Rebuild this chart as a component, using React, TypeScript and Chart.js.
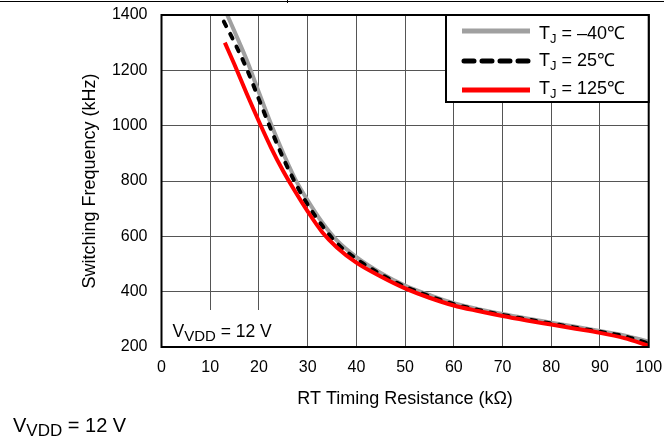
import React, { useEffect, useRef } from "react";
import { Chart, registerables } from "chart.js";

Chart.register(...registerables);

const FONT = "'Liberation Sans', Arial, sans-serif";

// x: RT timing resistance (kΩ), y: switching frequency (kHz)
const rtMinus40 = [13.5, 15, 17.5, 20, 22.5, 25, 27.5, 30, 33, 36, 40, 45, 50, 55, 60, 65, 70, 75, 80, 85, 90, 95, 100];
const fMinus40 = [1400, 1340, 1237, 1120, 1005, 900, 805, 730, 650, 585, 525, 468, 422, 388, 358, 337, 319, 303, 288, 273, 258, 242, 219];

const rt25 = [12.8, 15, 17.5, 20, 22.5, 25, 27.5, 30, 33, 36, 40, 45, 50, 55, 60, 65, 70, 75, 80, 85, 90, 95, 100];
const f25 = [1376, 1300, 1205, 1095, 985, 882, 792, 715, 638, 575, 518, 463, 418, 384, 355, 334, 316, 300, 285, 270, 255, 239, 213];

const rt125 = [13, 15, 17.5, 20, 22.5, 25, 27.5, 30, 33, 36, 40, 45, 50, 55, 60, 65, 70, 75, 80, 85, 90, 95, 100];
const f125 = [1300, 1220, 1115, 1015, 920, 835, 760, 690, 615, 560, 505, 455, 412, 378, 350, 330, 312, 296, 281, 266, 251, 232, 205];

const seriesLabels = ["–40℃", "25℃", "125℃"];
const xTitle = "RT Timing Resistance (kΩ)";
const yTitle = "Switching Frequency (kHz)";
const X_MIN = 0, X_MAX = 100, X_STEP = 10;
const Y_MIN = 200, Y_MAX = 1400, Y_STEP = 200;

const COLORS = ["#a0a0a0", "#000000", "#ff0000"];

function pts(xs: number[], ys: number[]) {
  return xs.map((x, i) => ({ x, y: ys[i] }));
}

function subText(ctx: CanvasRenderingContext2D, x: number, y: number, parts: [string, boolean][], size: number, subSize: number, subDy: number) {
  let cx = x;
  for (const [t, sub] of parts) {
    ctx.font = `${sub ? subSize : size}px ${FONT}`;
    ctx.fillText(t, cx, sub ? y + subDy : y);
    cx += ctx.measureText(t).width;
  }
}

const decor = {
  id: "decor",
  beforeDatasetsDraw(chart: any) {
    const { ctx, chartArea: a } = chart;
    ctx.save();
    ctx.fillStyle = "#fff";
    ctx.fillRect(a.left + 1, a.bottom - 37, 138, 37);
    ctx.fillStyle = "#000";
    ctx.textBaseline = "alphabetic";
    ctx.textAlign = "left";
    subText(ctx, a.left + 11, a.bottom - 10, [["V", false], ["VDD", true], [" = 12 V", false]], 17.5, 15, 4);
    ctx.restore();
  },
  afterDatasetsDraw(chart: any) {
    const { ctx, chartArea: a } = chart;
    ctx.save();
    // frame
    ctx.strokeStyle = "#000";
    ctx.lineWidth = 2;
    ctx.strokeRect(a.left, a.top, a.right - a.left, a.bottom - a.top);

    // legend box
    const lx = 446, ly = a.top, lw = a.right - 446, lh = 87;
    ctx.fillStyle = "#fff";
    ctx.fillRect(lx, ly, lw, lh);
    ctx.strokeRect(lx, ly, lw, lh);
    const rowsY = [31, 61, 90];
    const textY = [39, 66, 94];
    for (let i = 0; i < 3; i++) {
      ctx.beginPath();
      ctx.strokeStyle = COLORS[i];
      ctx.lineWidth = 5;
      if (i === 1) {
        ctx.setLineDash([10, 8]);
        ctx.lineCap = "round";
      } else {
        ctx.setLineDash([]);
        ctx.lineCap = "butt";
      }
      ctx.moveTo(i === 1 ? 464 : 462, rowsY[i]);
      ctx.lineTo(i === 1 ? 528 : 530, rowsY[i]);
      ctx.stroke();
      ctx.setLineDash([]);
      ctx.fillStyle = "#000";
      ctx.textAlign = "left";
      ctx.textBaseline = "alphabetic";
      subText(ctx, 539, textY[i], [["T", false], ["J", true], [" = " + seriesLabels[i], false]], 18, 13, 4);
    }

    // axis titles
    ctx.fillStyle = "#000";
    ctx.font = `18px ${FONT}`;
    ctx.textAlign = "center";
    ctx.textBaseline = "alphabetic";
    ctx.fillText(xTitle, (a.left + a.right) / 2, 404);
    ctx.translate(95, (a.top + a.bottom) / 2);
    ctx.rotate(-Math.PI / 2);
    ctx.fillText(yTitle, 0, 0);
    ctx.restore();
  },
};

export default function App() {
  const ref = useRef<HTMLCanvasElement>(null);
  useEffect(() => {
    const tickFont = { family: FONT, size: 16 };
    const chart = new Chart(ref.current!, {
      type: "line",
      data: {
        datasets: [
          { label: "T_J = " + seriesLabels[0], data: pts(rtMinus40, fMinus40), borderColor: COLORS[0], borderWidth: 4, pointRadius: 0, cubicInterpolationMode: "monotone", order: 3 },
          { label: "T_J = " + seriesLabels[1], data: pts(rt25, f25), borderColor: COLORS[1], borderWidth: 4, pointRadius: 0, cubicInterpolationMode: "monotone", borderDash: [5, 9], borderCapStyle: "round", order: 2 },
          { label: "T_J = " + seriesLabels[2], data: pts(rt125, f125), borderColor: COLORS[2], borderWidth: 4, pointRadius: 0, cubicInterpolationMode: "monotone", order: 1 },
        ] as any,
      },
      options: {
        responsive: false,
        animation: false,
        events: [],
        layout: { padding: { left: 0, top: 15, right: 15.3, bottom: 0 } },
        plugins: { legend: { display: false }, tooltip: { enabled: false } },
        scales: {
          x: {
            type: "linear",
            min: X_MIN,
            max: X_MAX,
            ticks: { stepSize: X_STEP, font: tickFont, color: "#000", padding: 11, maxRotation: 0, callback: (v: any) => String(v) },
            grid: { color: "#555", lineWidth: 1, drawTicks: false },
            border: { display: false },
            afterFit: (s: any) => { s.height = 97; s.paddingLeft = 0; s.paddingRight = 0; },
          },
          y: {
            type: "linear",
            min: Y_MIN,
            max: Y_MAX,
            ticks: { stepSize: Y_STEP, font: tickFont, color: "#000", padding: 14, callback: (v: any) => String(v) },
            grid: { color: "#555", lineWidth: 1, drawTicks: false },
            border: { display: false },
            afterFit: (s: any) => { s.width = 161.5; s.paddingTop = 0; s.paddingBottom = 0; },
          },
        },
      } as any,
      plugins: [decor],
    });
    return () => chart.destroy();
  }, []);

  return (
    <div style={{ position: "fixed", left: 0, top: 0, width: 664, height: 444, background: "#fff", overflow: "hidden" }}>
      <div style={{ position: "absolute", left: 0, top: 1, width: 664, height: 1, background: "#000" }} />
      <div style={{ position: "absolute", left: 287, top: 0, width: 1, height: 3, background: "#000" }} />
      <canvas ref={ref} width={664} height={444} style={{ position: "absolute", left: 0, top: 0 }} />
      <div style={{ position: "absolute", left: 13, top: 414, fontFamily: FONT, fontSize: 20, lineHeight: "22px", color: "#000", whiteSpace: "nowrap" }}>
        V<sub style={{ fontSize: 17, verticalAlign: "-4px", lineHeight: 0 }}>VDD</sub> = 12 V
      </div>
    </div>
  );
}
